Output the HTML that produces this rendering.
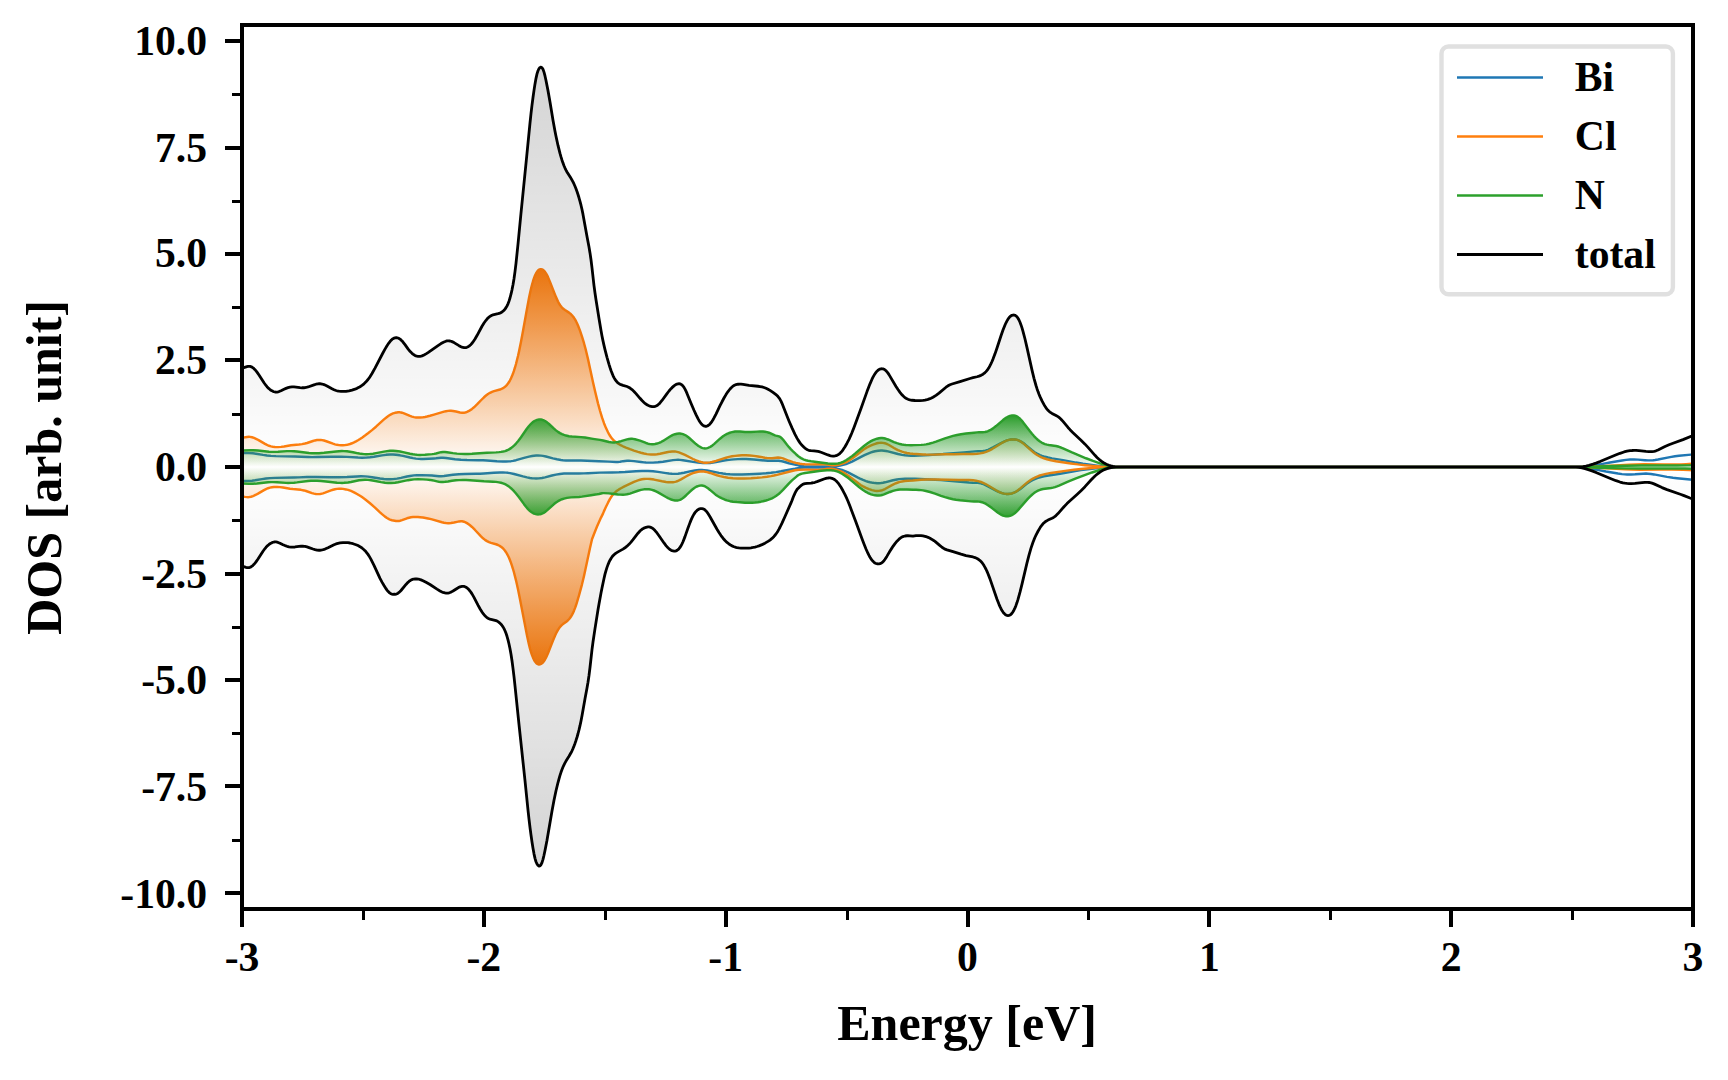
<!DOCTYPE html>
<html><head><meta charset="utf-8"><title>DOS</title>
<style>
html,body{margin:0;padding:0;background:#fff;}
svg{display:block;}
text{font-family:"Liberation Serif","Times New Roman",serif;font-weight:bold;fill:#000;}
</style></head><body>
<svg width="1728" height="1080" viewBox="0 0 1728 1080">
<defs>
<clipPath id="ax"><rect x="242.0" y="25.0" width="1451.00" height="884.0"/></clipPath>
<linearGradient id="g_cl" gradientUnits="userSpaceOnUse" x1="0" y1="269.16" x2="0" y2="664.84"><stop offset="0" stop-color="#ff7f0e" stop-opacity="1.0"/><stop offset="0.5" stop-color="#ff7f0e" stop-opacity="0"/><stop offset="1" stop-color="#ff7f0e" stop-opacity="1.0"/></linearGradient>
<linearGradient id="g_n" gradientUnits="userSpaceOnUse" x1="0" y1="415.41" x2="0" y2="518.59"><stop offset="0" stop-color="#2ca02c" stop-opacity="1.0"/><stop offset="0.5" stop-color="#2ca02c" stop-opacity="0"/><stop offset="1" stop-color="#2ca02c" stop-opacity="1.0"/></linearGradient>
<linearGradient id="g_total" gradientUnits="userSpaceOnUse" x1="0" y1="67.12" x2="0" y2="866.88"><stop offset="0" stop-color="#000000" stop-opacity="0.17"/><stop offset="0.5" stop-color="#000000" stop-opacity="0"/><stop offset="1" stop-color="#000000" stop-opacity="0.17"/></linearGradient>
</defs>
<rect width="1728" height="1080" fill="#fff"/>
<g clip-path="url(#ax)">
<path d="M238,452.95 241,453.04 249,453.1 253,453.31 256,453.68 263,454.88 267,455.45 271,455.85 276,456.13 295,456.46 308,457.01 312,457.11 317,457.07 332,456.67 341,456.69 347,456.9 358,457.59 362,457.73 366,457.63 370,457.26 374,456.69 382,455.36 386,454.84 390,454.57 393,454.57 396,454.78 400,455.33 403,455.92 410,457.52 413,458.13 416,458.6 419,458.89 421,458.97 423,458.95 434,458.46 436,458.34 441,457.79 443,457.77 446,458.02 455,459.26 461,459.8 467,460.05 478,460.18 483,460.32 487,460.55 497,461.27 503,461.49 506,461.49 509,461.36 511,461.16 513,460.85 516,460.18 525,457.61 529,456.62 532,456.05 534,455.76 536,455.57 538,455.49 541,455.62 543,455.89 546,456.54 553,458.36 557,459.28 561,459.95 563,460.19 566,460.44 571,460.59 581,460.57 587,460.67 599,461.26 609,461.63 616,462 618,461.96 619,461.87 620,461.74 623,461.16 625,460.91 627,460.79 629,460.79 631,460.88 634,461.15 641,462.03 644,462.35 646,462.5 649,462.63 653,462.6 658,462.28 663,461.67 673,460.13 676,459.85 678,459.78 680,459.85 683,460.17 693,461.91 698,462.58 703,463 706,463.08 708,463.04 710,462.92 713,462.57 716,462.07 724,460.57 727,460.12 731,459.63 734,459.36 738,459.13 742,459.03 746,459.06 750,459.21 754,459.46 765,460.49 768,460.71 772,460.84 777,460.74 779,460.82 780,460.93 781,461.09 783,461.54 789,463.22 796,464.87 800,465.66 804,466.17 808,466.42 812,466.51 827,466.4 833,466.21 836,465.99 838,465.77 840,465.48 842,465.1 844,464.62 846,464.04 849,462.96 852,461.62 862,456.31 865,454.86 868,453.53 871,452.4 873,451.78 875,451.3 878,450.79 881,450.52 882,450.51 884,450.67 886,450.99 888,451.42 898,454.03 902,454.86 905,455.27 908,455.54 911,455.7 914,455.76 919,455.61 929,454.92 943,454.08 964,452.35 975,451.36 978,451.17 983,450.97 985,450.68 986,450.44 988,449.79 990,448.95 993,447.44 1001,443.04 1003,442.05 1005,441.18 1007,440.44 1009,439.88 1011,439.51 1013,439.37 1015,439.49 1017,439.89 1019,440.57 1021,441.57 1023,442.84 1025,444.33 1032,450.23 1034,451.76 1035,452.44 1037,453.65 1040,455.1 1042,455.87 1045,456.81 1048,457.55 1052,458.34 1063,460.15 1076,462.58 1083,463.71 1097,465.59 1103,466.28 1108,466.66 1115,466.92 1122,467 1579,466.97 1582,466.86 1585,466.62 1589,466.16 1593,465.59 1599,464.6 1610,462.46 1622,460.45 1626,459.89 1630,459.55 1634,459.47 1638,459.61 1645,460.2 1648,460.39 1651,460.38 1653,460.24 1655,460.01 1658,459.54 1670,457.15 1675,456.32 1679,455.84 1691,454.65 1697,453.98 1697,480.02 1695,479.96 1690,479.42 1677,478.21 1673,477.77 1667,476.85 1654,474.42 1651,473.98 1648,473.67 1646,473.59 1643,473.66 1635,474.32 1631,474.52 1627,474.49 1625,474.38 1622,474.11 1618,473.55 1606,471.54 1595,469.4 1589,468.41 1585,467.84 1581,467.38 1578,467.14 1575,467.03 1120,467 1113,467.08 1106,467.33 1100,467.78 1094,468.46 1081,470.12 1074,471.17 1060,473.68 1047,475.72 1044,476.28 1041,476.96 1038,477.81 1036,478.51 1033,479.8 1031,480.88 1029,482.14 1027,483.61 1020,489.17 1018,490.57 1016,491.76 1014,492.7 1012,493.39 1010,493.83 1008,494 1006,493.91 1004,493.59 1002,493.08 1000,492.39 998,491.56 996,490.62 988,486.36 986,485.35 984,484.45 982,483.71 981,483.42 979,483.01 978,482.9 973,482.74 969,482.5 949,480.84 941,480.12 935,479.69 925,479.32 915,478.81 908,478.61 905,478.67 902,478.85 899,479.15 897,479.45 893,480.27 885,482.32 883,482.74 881,483.07 879,483.25 877,483.24 875,483.09 873,482.83 870,482.25 868,481.72 866,481.06 863,479.89 860,478.56 858,477.58 848,472.35 845,471.04 842,469.97 840,469.39 838,468.92 836,468.54 834,468.25 832,468.03 829,467.8 823,467.61 808,467.49 804,467.57 800,467.81 798,468.09 795,468.74 781,471.31 776,472.09 771,472.74 766,473.24 760,473.67 749,474.29 742,474.54 738,474.58 734,474.5 730,474.28 726,473.91 723,473.53 719,472.89 707,470.56 704,470.17 702,470.04 699,470.06 697,470.21 695,470.45 691,471.17 684,472.74 681,473.31 678,473.71 675,473.88 672,473.82 669,473.55 666,473.14 658,471.89 653,471.32 648,471.03 642,471.01 636,471.26 625,472.04 619,472.33 612,472.49 600,472.63 588,473.22 584,473.37 579,473.43 569,473.41 564,473.59 560,473.98 556,474.63 552,475.51 545,477.32 542,478 539,478.4 536,478.49 534,478.4 532,478.21 530,477.93 527,477.36 523,476.42 514,474 510,473.13 508,472.84 506,472.65 503,472.52 500,472.5 494,472.72 484,473.47 480,473.7 476,473.82 465,473.95 459,474.21 456,474.46 453,474.78 444,476.01 441,476.23 439,476.21 434,475.69 432,475.55 421,475.15 417,475.16 414,475.38 410,475.96 407,476.56 401,477.89 397,478.61 393,479.11 390,479.31 387,479.29 384,479.07 380,478.57 372,477.19 368,476.64 365,476.37 361,476.27 357,476.42 347,477.05 339,477.32 330,477.32 316,476.94 311,476.89 307,476.99 299,477.38 294,477.55 275,477.87 270,478.15 266,478.55 262,479.12 255,480.32 252,480.69 248,480.9 238,481.01Z" fill="none" stroke="#1f77b4" stroke-width="2.45" stroke-linejoin="round" paint-order="stroke"/>
<path d="M238,437.6 239,437.78 240,437.85 241,437.83 243,437.6 247,436.96 249,436.84 250,436.9 252,437.27 254,437.92 255,438.34 257,439.3 259,440.4 265,443.93 267,444.95 268,445.39 269,445.78 271,446.4 273,446.82 275,447.06 278,447.12 281,446.89 284,446.46 291,445.29 299,444.51 302,444.12 305,443.55 307,443.02 313,441 315,440.43 317,440.03 319,439.86 321,439.94 322,440.09 324,440.53 327,441.48 333,443.7 335,444.33 337,444.82 339,445.15 341,445.31 343,445.3 345,445.14 347,444.81 348,444.59 350,444 352,443.26 354,442.36 356,441.34 358,440.22 360,438.99 362,437.67 365,435.54 368,433.27 372,430.09 376,426.71 384,419.41 387,416.94 389,415.51 391,414.34 393,413.45 395,412.82 397,412.43 398,412.32 399,412.29 400,412.34 401,412.48 402,412.7 404,413.34 410,415.96 412,416.64 414,417.13 416,417.43 418,417.57 420,417.56 423,417.3 425,416.98 427,416.56 430,415.8 434,414.68 444,411.68 446,411.19 448,410.87 450,410.76 451,410.79 453,410.97 456,411.52 460,412.44 462,412.72 463,412.76 464,412.7 465,412.54 466,412.27 467,411.91 469,410.93 471,409.65 472,408.92 474,407.28 477,404.46 482,399.25 484,397.26 486,395.49 488,394.01 490,392.82 492,391.88 494,391.17 500,389.52 502,388.73 503,388.21 504,387.58 505,386.82 506,385.91 507,384.83 508,383.54 509,382.05 510,380.32 511,378.33 512,376.08 513,373.53 514,370.67 515,367.49 516,364 518,356.06 519,351.61 521,341.77 523,331.04 527,308.67 529,298.1 530,293.25 531,288.8 532,284.8 533,281.25 534,278.17 535,275.56 536,273.43 537,271.76 538,270.53 539,269.71 540,269.27 541,269.16 542,269.38 543,269.9 544,270.73 545,271.88 546,273.34 547,275.11 548,277.16 550,281.86 554,292.22 556,297.12 558,301.47 559,303.36 560,305 561,306.38 562,307.54 563,308.5 564,309.32 565,310.03 569,312.63 570,313.39 571,314.26 572,315.27 573,316.45 574,317.82 575,319.4 576,321.19 577,323.22 578,325.48 580,330.68 582,336.64 584,343.23 586,350.67 588,359.1 593,382.14 595,391.06 598,403.35 600,410.76 602,417.43 604,423.2 606,428.09 608,432.26 609,434.1 610,435.75 611,437.23 612,438.53 613,439.67 614,440.66 615,441.54 617,443.02 618,443.67 620,444.81 623,446.27 626,447.58 630,449.16 634,450.58 638,451.88 641,452.74 644,453.49 647,454.09 649,454.38 651,454.56 653,454.59 655,454.5 657,454.29 660,453.81 668,452.04 670,451.67 672,451.45 673,451.41 675,451.5 676,451.64 677,451.84 679,452.4 682,453.55 685,454.94 693,458.99 695,459.92 697,460.77 699,461.48 701,462.05 703,462.45 705,462.67 707,462.7 708,462.65 710,462.4 712,462.01 716,460.91 723,458.61 726,457.69 729,456.92 732,456.31 735,455.86 739,455.46 742,455.32 746,455.31 750,455.5 754,455.89 758,456.47 765,457.69 767,457.96 769,458.13 772,458.16 778,457.59 780,457.69 781,457.86 783,458.44 789,460.78 793,462.06 796,462.86 798,463.31 800,463.69 802,463.98 805,464.26 809,464.4 812,464.38 820,464.15 824,464.2 827,464.49 832,465.24 834,465.33 835,465.28 837,465.04 840,464.38 843,463.42 846,462.09 849,460.41 852,458.44 856,455.51 863,450.04 865,448.62 867,447.37 870,445.82 873,444.56 876,443.54 878,443.06 879,442.89 881,442.74 883,442.86 885,443.29 886,443.61 887,444.01 889,445 894,447.95 896,449.06 898,450.06 900,450.94 902,451.69 905,452.56 907,453 910,453.45 913,453.73 923,454.42 926,454.57 929,454.63 933,454.6 944,454.34 954,454.21 963,454 973,453.96 977,453.75 980,453.4 983,452.82 986,451.89 989,450.61 992,449.04 995,447.23 1001,443.44 1003,442.29 1005,441.27 1007,440.45 1009,439.86 1011,439.5 1013,439.38 1015,439.47 1017,439.83 1018,440.14 1019,440.55 1020,441.06 1021,441.68 1023,443.16 1025,444.87 1030,449.43 1032,451.17 1034,452.79 1036,454.23 1038,455.48 1041,457.05 1044,458.29 1047,459.26 1051,460.24 1056,461.18 1071,463.43 1078,464.39 1085,465.16 1093,465.87 1100,466.4 1106,466.71 1115,466.9 1129,467 1582,467 1590,466.72 1616,465.43 1629,464.72 1636,464.43 1644,464.31 1664,464.55 1675,464.5 1681,464.36 1686,464.17 1692,463.84 1697,463.46 1697,470.54 1695,470.5 1689,470.08 1683,469.79 1672,469.49 1660,469.45 1640,469.69 1632,469.57 1625,469.28 1612,468.57 1586,467.28 1578,467 1127,467 1113,467.1 1104,467.29 1097,467.63 1089,468.22 1081,468.92 1074,469.69 1067,470.61 1051,472.92 1046,473.85 1042,474.83 1039,475.79 1036,477.01 1033,478.54 1031,479.76 1029,481.14 1027,482.68 1020,488.64 1018,490.25 1016,491.65 1015,492.23 1014,492.72 1012,493.44 1010,493.86 1008,494 1006,493.91 1004,493.61 1002,493.08 1000,492.31 998,491.34 996,490.24 989,485.95 986,484.25 983,482.79 981,481.99 979,481.34 976,480.67 973,480.27 969,480.02 959,480.01 935,479.56 927,479.56 921,479.78 913,480.5 908,480.74 905,481.01 902,481.47 900,481.93 898,482.51 896,483.23 894,484.08 892,485.06 885,489.02 883,489.93 882,490.28 881,490.56 879,490.87 877,490.92 875,490.75 874,490.59 872,490.11 869,489.13 866,487.92 863,486.41 861,485.19 859,483.79 852,478.4 848,475.51 845,473.58 842,471.92 839,470.61 836,469.65 833,468.99 831,468.73 830,468.68 828,468.74 826,468.99 822,469.61 819,469.83 816,469.85 808,469.63 805,469.6 799,469.8 797,469.96 795,470.29 791,471.23 777,474.86 774,475.54 771,476.12 767,476.75 762,477.37 757,477.84 751,478.26 744,478.52 738,478.5 733,478.26 728,477.73 724,477.05 720,476.1 717,475.23 710,472.95 707,472.1 705,471.69 704,471.56 702,471.44 700,471.53 698,471.79 696,472.22 693,473.16 691,473.97 688,475.41 686,476.5 681,479.39 679,480.43 677,481.27 676,481.59 675,481.84 673,482.19 672,482.28 670,482.34 668,482.24 666,482.02 662,481.31 654,479.58 652,479.25 650,479.01 648,478.88 646,478.87 644,479.01 642,479.3 640,479.73 638,480.32 636,481.05 634,481.9 624,486.7 621,488.26 619,489.42 617,490.78 616,491.57 614,493.44 613,494.56 612,495.83 611,497.27 610,498.9 608,502.67 606,506.72 604,511.13 603,513.63 601,517.59 599,521.91 597,526.53 595,531.45 592,539.3 590,548.09 584,575.91 582,584.31 579,595.4 577,602.19 576,605.27 575,608.11 574,610.66 573,612.91 572,614.86 571,616.56 570,618.01 569,619.24 568,620.27 567,621.16 563,624.09 562,624.91 561,625.88 560,627.04 559,628.31 558,629.82 557,631.59 556,633.57 555,635.75 553,640.53 548,653.22 547,655.54 546,657.66 545,659.53 544,661.11 543,662.38 542,663.33 541,663.97 540,664.36 539,664.47 538,664.27 537,663.73 536,662.83 535,661.54 534,659.83 533,657.68 532,655.08 531,652.05 530,648.58 529,644.64 527,635.58 520,599.15 518,589.29 516,580.34 514,572.51 513,569.02 512,565.81 511,562.88 510,560.22 509,557.83 508,555.71 507,553.84 506,552.19 505,550.76 504,549.51 503,548.44 502,547.52 501,546.75 500,546.1 499,545.51 498,545.02 496,544.27 491,542.86 489,542.13 487,541.15 485,539.89 483,538.32 481,536.43 475,529.97 472,526.99 470,525.25 469,524.47 467,523.12 466,522.56 465,522.09 464,521.72 463,521.45 462,521.29 461,521.24 459,521.42 457,521.83 454,522.55 451,523.07 449,523.22 448,523.23 446,523.08 444,522.74 442,522.27 432,519.42 430,518.88 428,518.44 423,517.5 420,517.16 418,517.05 413,517.06 411,517.27 410,517.44 408,517.94 407,518.27 402,520.18 400,520.75 399,520.93 398,521.03 397,521.05 396,520.98 392,520.21 390,519.57 389,519.13 387,518.01 385,516.62 382,514.14 380,512.33 375,507.58 370,503.24 365,499.2 362,497.1 360,495.78 357,493.96 355,492.86 353,491.86 351,490.97 348,489.88 346,489.42 343,488.89 341,488.7 339,488.69 337,488.85 335,489.21 333,489.73 331,490.39 325,492.69 323,493.35 321,493.84 320,494.01 318,494.14 316,494.01 314,493.65 312,493.08 306,490.97 304,490.43 301,489.84 298,489.46 293,489.02 290,488.68 283,487.53 280,487.11 277,486.88 274,486.94 272,487.18 270,487.6 268,488.22 267,488.61 266,489.05 264,490.07 258,493.6 256,494.7 254,495.66 253,496.08 251,496.73 249,497.1 248,497.16 247,497.13 245,496.9 241,496.26 239,496.15 238,496.22Z" fill="url(#g_cl)" stroke="#ff7f0e" stroke-width="2.45" stroke-linejoin="round" paint-order="stroke"/>
<path d="M238,450.58 242,450.58 251,450.26 254,450.28 258,450.54 269,451.68 272,451.86 274,451.9 278,451.77 287,451.13 291,451.11 294,451.26 297,451.53 309,452.97 312,453.18 315,453.26 319,453.17 324,452.83 329,452.32 336,451.5 339,451.22 342,451.09 344,451.11 347,451.32 350,451.71 353,452.27 358,453.33 361,453.84 364,454.15 366,454.22 369,454.13 373,453.67 376,453.16 384,451.62 387,451.15 390,450.83 393,450.74 396,450.92 398,451.16 400,451.49 403,452.11 410,453.72 413,454.28 415,454.57 417,454.78 420,454.92 422,454.9 425,454.75 432,454.14 434,453.86 436,453.47 440,452.42 441,452.22 443,452.01 445,452.02 447,452.21 453,453.14 457,453.62 461,453.89 465,453.99 468,453.95 472,453.79 487,452.72 496,452.35 499,452.13 501,451.9 503,451.56 505,451.07 506,450.75 508,449.91 509,449.39 511,448.11 512,447.35 514,445.61 515,444.63 516,443.56 518,441.22 521,437.25 527,428.54 529,425.96 531,423.79 532,422.86 533,422.05 534,421.35 535,420.76 536,420.29 537,419.92 538,419.67 539,419.52 540,419.49 541,419.57 542,419.76 543,420.06 544,420.48 545,421 546,421.62 547,422.34 549,423.99 554,428.63 556,430.37 558,431.88 560,433.13 562,434.15 564,434.94 566,435.55 569,436.18 572,436.55 581,437.11 585,437.56 593,438.85 600,439.85 603,440.49 609,441.97 611,442.33 613,442.5 615,442.41 618,441.91 621,441.19 627,439.41 629,438.95 631,438.75 632,438.78 633,438.89 635,439.28 640,440.64 642,441.31 646,442.99 648,443.69 650,444.11 652,444.25 653,444.22 655,444 657,443.56 659,442.89 661,442.02 663,440.94 670,436.49 672,435.41 673,434.95 675,434.2 677,433.71 679,433.53 680,433.55 681,433.67 682,433.87 683,434.16 684,434.54 685,435 686,435.55 687,436.19 689,437.72 696,444.04 698,445.62 699,446.3 701,447.42 702,447.83 703,448.14 704,448.34 705,448.41 706,448.36 707,448.19 708,447.9 709,447.49 710,446.98 711,446.38 712,445.69 714,444.09 720,438.69 723,436.33 725,435.02 727,433.91 729,433.03 731,432.35 732,432.09 734,431.71 735,431.58 737,431.46 740,431.53 745,431.95 748,432.09 751,432.03 757,431.61 760,431.46 763,431.5 765,431.71 767,432.11 769,432.74 775,435.31 776,435.65 779,436.4 780,436.85 781,437.55 782,438.49 783,439.6 787,444.79 789,447.2 791,449.37 793,451.38 796,454.23 798,455.97 799,456.76 801,458.13 803,459.18 804,459.6 806,460.26 808,460.74 811,461.26 828,463.51 832,463.82 835,463.81 837,463.62 838,463.45 840,462.95 841,462.62 843,461.82 844,461.35 846,460.26 849,458.33 852,456.11 855,453.68 864,446.02 866,444.46 868,443.02 871,441.15 873,440.13 875,439.31 877,438.68 879,438.24 881,438.02 882,438.01 884,438.26 886,438.78 888,439.49 894,442.07 897,443.18 900,444.06 902,444.48 904,444.78 906,444.98 908,445.1 911,445.17 914,445.14 921,444.88 924,444.62 926,444.35 929,443.76 933,442.69 936,441.71 945,438.44 949,437.09 953,435.92 957,434.96 961,434.24 966,433.58 974,432.66 977,432.37 979,432.25 983,432.18 984,432.1 985,431.96 987,431.47 988,431.12 990,430.22 991,429.67 993,428.38 996,426.09 1003,420.08 1005,418.54 1006,417.86 1008,416.72 1009,416.26 1010,415.9 1011,415.63 1012,415.46 1013,415.41 1014,415.48 1015,415.68 1016,416.01 1017,416.48 1018,417.1 1019,417.87 1020,418.78 1021,419.81 1023,422.15 1030,431.28 1032,433.76 1034,436.07 1036,438.16 1038,440 1040,441.56 1042,442.8 1044,443.73 1045,444.1 1047,444.65 1049,445.04 1054,445.69 1056,446.01 1057,446.23 1059,446.8 1061,447.52 1063,448.35 1072,452.46 1079,455.45 1086,458.27 1093,460.91 1100,463.33 1106,465.13 1110,466.12 1112,466.49 1114,466.73 1117,466.87 1129,467 1582,467 1590,466.82 1612,465.99 1626,465.67 1641,465.54 1677,465.53 1688,465.4 1697,465.21 1697,468.79 1685,468.58 1675,468.48 1638,468.46 1623,468.34 1608,468.01 1586,467.18 1578,467 1127,467 1113,467.2 1111,467.37 1109,467.68 1105,468.55 1099,470.22 1092,472.47 1084,475.33 1076,478.4 1068,481.69 1059,485.63 1057,486.42 1055,487.11 1053,487.65 1051,488.02 1045,488.73 1043,489.05 1041,489.53 1040,489.84 1038,490.63 1036,491.71 1034,493.09 1032,494.74 1030,496.63 1028,498.65 1026,500.83 1018,510.1 1016,512.15 1015,513.04 1014,513.82 1013,514.47 1012,515.05 1011,515.49 1009,516.1 1008,516.28 1007,516.33 1006,516.28 1005,516.12 1004,515.87 1003,515.53 1001,514.62 1000,514.05 998,512.73 992,508.11 988,505.18 986,503.93 985,503.4 983,502.52 982,502.19 980,501.72 979,501.6 977,501.52 974,501.52 971,501.37 960,500.3 956,499.75 953,499.21 949,498.29 945,497.14 941,495.79 935,493.57 930,492 926,490.96 923,490.39 921,490.12 919,489.95 916,489.84 913,489.83 907,489.44 903,489.39 900,489.55 898,489.77 896,490.13 893,490.89 890,491.98 884,494.42 882,495.05 881,495.29 879,495.56 877,495.56 875,495.34 873,494.91 871,494.3 870,493.93 868,493.03 866,491.95 863,490.02 861,488.56 859,486.98 852,481.07 848,477.84 845,475.66 842,473.75 839,472.21 837,471.41 836,471.09 834,470.58 833,470.41 831,470.21 829,470.16 827,470.22 824,470.46 821,470.82 805,473.02 802,473.66 800,474.29 799,474.76 798,475.36 797,476.08 792,480.41 789,483.37 783,489.93 781,491.95 779,493.74 778,494.56 776,496.02 774,497.26 772,498.29 770,499.15 768,499.87 766,500.49 763,501.25 761,501.67 758,502.17 755,502.55 752,502.77 749,502.83 745,502.7 737,502.09 733,501.68 730,501.17 727,500.39 725,499.72 722,498.46 720,497.46 718,496.28 716,494.92 715,494.15 710,489.92 708,488.32 706,486.96 705,486.42 704,485.99 703,485.69 702,485.54 701,485.52 700,485.62 699,485.81 698,486.1 697,486.48 696,486.95 695,487.52 694,488.18 692,489.76 690,491.6 686,495.49 684,497.28 683,498.07 682,498.77 681,499.36 680,499.83 679,500.17 678,500.41 677,500.53 676,500.55 675,500.49 674,500.33 672,499.79 670,499.01 668,498.05 666,496.97 658,492.35 656,491.35 654,490.5 652,489.84 651,489.59 649,489.27 647,489.16 646,489.18 644,489.34 641,489.88 638,490.74 632,492.94 630,493.59 627,494.31 625,494.6 623,494.73 620,494.64 618,494.45 612,493.67 609,493.35 604,493.1 603,493.15 602,493.29 599,493.97 597,494.33 591,495.18 582,496.61 579,496.91 571,497.4 569,497.6 567,497.89 564,498.57 562,499.23 560,500.09 558,501.16 556,502.48 554,504.05 547,510.4 545,511.96 544,512.62 543,513.19 542,513.64 541,513.99 540,514.24 539,514.38 538,514.42 537,514.36 536,514.19 535,513.92 534,513.55 533,513.06 532,512.48 531,511.79 530,510.99 529,510.08 528,509.08 526,506.75 524,504.14 519,497.26 516,493.46 514,491.19 512,489.16 511,488.24 509,486.62 508,485.91 506,484.7 505,484.19 503,483.37 501,482.78 499,482.34 496,481.9 493,481.66 484,481.27 470,480.22 466,480.05 463,480.01 459,480.12 456,480.32 452,480.77 448,481.42 445,481.83 443,481.98 441,481.98 439,481.78 438,481.58 434,480.59 432,480.2 430,479.91 427,479.65 423,479.39 418,479.22 414,479.36 411,479.68 408,480.17 401,481.67 398,482.25 395,482.69 391,483.05 388,483.01 385,482.73 381,482.1 374,480.71 371,480.21 368,479.88 365,479.78 362,479.93 359,480.32 351,481.97 348,482.47 344,482.83 342,482.91 340,482.9 337,482.72 326,481.5 321,481.04 317,480.81 314,480.74 311,480.81 308,481.03 297,482.39 294,482.68 291,482.86 288,482.91 286,482.86 277,482.23 273,482.1 271,482.14 268,482.32 257,483.46 253,483.72 249,483.72 241,483.42 238,483.4Z" fill="url(#g_n)" stroke="#2ca02c" stroke-width="2.45" stroke-linejoin="round" paint-order="stroke"/>
<path d="M238,367.81 239,368.18 240,368.33 241,368.31 242,368.15 243,367.88 247,366.58 248,366.37 249,366.29 250,366.37 251,366.65 252,367.13 253,367.8 254,368.65 255,369.66 256,370.82 257,372.11 259,375.01 264,382.76 266,385.46 267,386.65 269,388.68 270,389.52 271,390.25 272,390.87 273,391.37 274,391.74 275,391.99 276,392.09 277,392.04 278,391.86 279,391.56 281,390.73 284,389.26 286,388.38 288,387.66 290,387.15 292,386.88 294,386.87 296,387.04 300,387.59 302,387.77 304,387.76 305,387.66 306,387.48 308,386.96 314,384.83 316,384.22 318,383.83 319,383.74 320,383.74 321,383.83 322,384.02 324,384.63 325,385.04 327,385.99 332,388.7 334,389.68 336,390.47 337,390.77 339,391.19 341,391.41 343,391.47 346,391.3 349,390.85 352,390.14 355,389.18 357,388.36 359,387.36 360,386.78 362,385.43 364,383.8 366,381.84 368,379.49 369,378.15 370,376.7 372,373.5 375,368.12 383,352.75 385,349.14 387,345.79 389,342.81 390,341.52 391,340.39 392,339.45 393,338.7 394,338.16 395,337.82 396,337.69 397,337.75 398,338.02 399,338.48 400,339.12 401,339.93 402,340.91 403,342.04 405,344.65 408,348.82 410,351.28 411,352.35 412,353.3 413,354.12 414,354.83 415,355.42 416,355.87 417,356.2 418,356.4 419,356.46 420,356.39 421,356.2 422,355.9 424,355.02 426,353.88 428,352.59 438,345.57 441,343.58 443,342.43 444,341.95 446,341.2 447,340.97 448,340.84 449,340.86 450,341 451,341.26 452,341.62 454,342.59 459,345.67 461,346.75 462,347.17 463,347.48 464,347.67 465,347.71 466,347.58 467,347.28 468,346.8 469,346.16 470,345.36 471,344.39 472,343.26 473,341.99 475,339.02 477,335.55 482,326.29 484,323.05 486,320.28 487,319.09 488,318.04 489,317.14 490,316.38 491,315.75 492,315.24 493,314.83 494,314.53 498,313.72 499,313.46 500,313.1 501,312.62 502,312 503,311.21 504,310.24 505,309.07 506,307.66 507,305.93 508,303.79 509,301.17 510,298 511,294.23 512,289.83 513,284.73 514,278.74 515,271.67 516,263.39 518,244.19 521,213.14 526,163.48 530,122.99 531,113.69 532,105.21 533,97.47 534,90.36 535,83.9 536,78.32 537,73.89 538,70.75 539,68.7 540,67.51 541,67.12 542,67.66 543,69.29 544,72.12 545,75.95 546,80.47 548,90.63 550,102.03 553,120.19 555,131.27 556,136.3 558,145.43 560,153.4 561,156.95 562,160.18 563,163.1 564,165.71 565,168.05 566,170.13 567,171.97 571,178.36 572,180.07 573,181.93 574,183.97 575,186.24 576,188.75 577,191.51 578,194.52 579,197.77 580,201.31 581,205.2 582,209.54 583,214.39 587,236.5 589,247.06 590,252.92 591,259.72 592,267.89 594,285.55 595,293.02 596,299.74 599,318.53 601,330.5 602,335.92 603,340.86 604,345.39 605,349.6 607,357.34 609,364.33 610,367.5 611,370.44 612,373.13 613,375.52 614,377.6 615,379.34 616,380.77 617,381.93 618,382.86 619,383.6 620,384.2 621,384.67 623,385.36 627,386.53 628,386.93 629,387.43 630,388.04 632,389.57 634,391.45 636,393.61 640,398.3 642,400.53 644,402.49 645,403.34 647,404.75 648,405.33 649,405.8 650,406.19 651,406.48 652,406.66 653,406.72 654,406.63 655,406.4 656,406.02 657,405.48 658,404.78 659,403.92 660,402.9 662,400.48 667,393.56 669,391 671,388.7 672,387.66 674,385.87 675,385.14 676,384.54 677,384.09 678,383.82 679,383.74 680,383.89 681,384.29 682,384.97 683,385.98 684,387.36 685,389.1 686,391.16 687,393.43 691,403.23 694,410.21 696,414.58 698,418.6 699,420.4 700,422 701,423.39 702,424.51 703,425.36 704,425.93 705,426.23 706,426.28 707,426.07 708,425.61 709,424.9 710,423.95 711,422.76 712,421.35 713,419.73 714,417.94 716,414.02 720,405.73 722,401.76 724,398.02 726,394.6 728,391.57 730,389.01 731,387.93 732,386.98 733,386.19 734,385.55 735,385.05 736,384.67 737,384.41 738,384.25 740,384.16 741,384.21 743,384.45 749,385.41 758,386.26 760,386.54 762,386.94 764,387.48 766,388.23 768,389.19 770,390.35 773,392.38 776,394.64 777,395.52 778,396.56 779,397.8 780,399.32 781,401.17 782,403.35 787,416.05 789,420.95 792,427.9 795,434.28 797,438.11 798,439.84 799,441.41 800,442.82 801,444.1 802,445.25 804,447.28 805,448.16 806,448.92 807,449.55 808,450.02 809,450.34 810,450.54 811,450.65 814,450.84 816,451.04 818,451.39 819,451.64 821,452.27 828,454.94 830,455.55 831,455.79 833,456.06 834,456.06 835,455.95 836,455.72 837,455.35 838,454.83 839,454.15 840,453.31 841,452.31 842,451.15 843,449.83 845,446.77 847,443.23 849,439.31 851,434.95 852,432.56 854,427.4 861,408.45 867,391.6 870,383.82 872,379.23 873,377.2 874,375.37 875,373.75 876,372.35 877,371.19 878,370.25 879,369.55 880,369.07 881,368.81 882,368.76 883,368.91 884,369.28 885,369.89 886,370.75 887,371.84 888,373.14 889,374.61 896,386.44 898,389.53 900,392.34 902,394.77 903,395.83 904,396.76 905,397.57 906,398.25 907,398.81 908,399.26 909,399.62 910,399.9 912,400.27 915,400.51 920,400.58 923,400.43 925,400.16 927,399.71 928,399.41 930,398.68 931,398.24 933,397.22 936,395.32 939,393.06 946,387.22 948,385.81 949,385.22 950,384.72 952,384.01 960,381.67 970,378.52 973,377.69 977,376.74 979,376.16 981,375.36 982,374.84 983,374.22 984,373.49 985,372.63 986,371.61 987,370.42 988,369.05 989,367.46 990,365.67 991,363.68 992,361.5 993,359.12 995,353.84 997,347.98 1001,335.75 1003,330.05 1005,325 1006,322.79 1007,320.85 1008,319.17 1009,317.77 1010,316.65 1011,315.83 1012,315.3 1013,315.03 1014,315.02 1015,315.3 1016,315.9 1017,316.86 1018,318.24 1019,320.05 1020,322.28 1021,324.9 1022,327.92 1023,331.31 1025,339 1027,347.61 1032,370.12 1034,378.32 1036,385.5 1037,388.68 1038,391.59 1039,394.23 1040,396.64 1042,400.9 1044,404.64 1045,406.32 1046,407.84 1047,409.17 1048,410.31 1049,411.27 1050,412.1 1052,413.41 1056,415.45 1058,416.63 1059,417.37 1060,418.23 1061,419.2 1063,421.42 1068,427.45 1070,429.65 1073,432.68 1081,440.19 1085,444.14 1088,447.34 1095,455.33 1097,457.42 1099,459.28 1100,460.13 1102,461.66 1104,462.98 1106,464.09 1107,464.56 1109,465.36 1111,465.95 1113,466.36 1115,466.63 1118,466.82 1129,467 1575,467 1580,466.88 1583,466.59 1586,466.07 1589,465.36 1593,464.15 1596,463.11 1600,461.57 1615,455.32 1620,453.32 1624,451.97 1627,451.21 1630,450.71 1632,450.52 1634,450.44 1636,450.45 1639,450.63 1646,451.43 1649,451.67 1651,451.68 1652,451.62 1654,451.34 1655,451.1 1656,450.8 1658,450.01 1665,446.55 1669,444.79 1673,443.24 1683,439.59 1693,435.43 1695,434.7 1697,434.08 1697,499.92 1696,499.92 1695,499.77 1693,499.12 1690,498.03 1684,495.62 1681,494.49 1667,489.62 1662,487.59 1654,483.89 1652,483.16 1651,482.88 1649,482.49 1648,482.38 1647,482.32 1645,482.33 1642,482.57 1635,483.37 1631,483.57 1629,483.53 1627,483.4 1625,483.15 1623,482.79 1620,482.03 1616,480.68 1611,478.68 1596,472.43 1592,470.89 1589,469.85 1585,468.64 1582,467.93 1579,467.41 1576,467.11 1571,467 1127,467 1116,467.18 1113,467.37 1111,467.64 1109,468.04 1107,468.6 1105,469.35 1104,469.8 1102,470.83 1100,472.06 1098,473.49 1097,474.28 1095,476.01 1093,477.94 1091,480.05 1085,486.66 1081,490.71 1077,494.46 1070,500.74 1067,503.6 1064,506.73 1058,513.61 1056,515.57 1055,516.39 1054,517.1 1053,517.7 1052,518.22 1048,520.09 1046,521.25 1045,521.97 1044,522.82 1043,523.82 1042,524.99 1041,526.33 1040,527.84 1038,531.26 1036,535.12 1035,537.28 1034,539.64 1033,542.22 1031,548.13 1029,555.04 1027,562.86 1022,584.11 1020,592.19 1018,599.4 1017,602.57 1016,605.41 1015,607.88 1014,609.97 1013,611.68 1012,613.19 1011,614.29 1010,615.01 1009,615.41 1008,615.53 1007,615.39 1006,614.98 1005,614.29 1004,613.32 1003,612.06 1002,610.52 1001,608.71 1000,606.65 999,604.36 997,599.2 990,578.88 988,573.72 987,571.4 986,569.26 985,567.32 984,565.57 983,564.03 982,562.69 981,561.54 980,560.56 979,559.73 978,559.04 977,558.46 975,557.59 973,556.99 966,555.53 961,554.19 953,551.69 947,549.91 945,549.14 944,548.61 942,547.28 940,545.68 935,541.38 934,540.7 932,539.42 930,538.3 928,537.35 927,536.95 925,536.31 923,535.86 921,535.61 919,535.54 916,535.72 913,536.1 910,535.8 908,535.73 907,535.76 905,536 904,536.25 903,536.58 902,537.03 901,537.61 900,538.31 899,539.15 897,541.17 895,543.6 893,546.34 892,547.88 890,551.11 887,556.14 885,559.24 884,560.57 883,561.71 882,562.62 881,563.29 880,563.71 879,563.88 878,563.84 877,563.77 876,563.49 875,563 874,562.29 873,561.35 872,560.19 871,558.82 870,557.22 869,555.43 868,553.45 866,548.98 864,544.05 862,538.8 856,522.32 850,506.36 848,501.29 847,498.94 845,494.65 843,490.79 841,487.3 839,484.27 838,482.96 837,481.8 836,480.8 835,479.96 834,479.27 833,478.73 832,478.34 831,478.09 830,477.96 829,477.94 828,478.02 827,478.18 826,478.4 824,478.99 817,481.64 815,482.29 814,482.55 813,482.75 811,483.04 807,483.33 805,483.6 804,483.89 803,484.32 802,484.9 801,485.62 800,486.46 798,488.42 797,489.55 796,491.17 795,493.13 794,495.34 793,497.81 792,500.52 791,502.85 785,516.53 782,523.13 780,527.25 779,529.16 778,530.92 777,532.52 776,533.97 775,535.28 774,536.45 772,538.44 770,540.04 768,541.39 765,543.16 762,544.65 759,545.85 757,546.5 755,547.04 753,547.47 751,547.8 749,548.03 747,548.16 743,548.19 741,548.09 739,547.89 737,547.56 736,547.33 734,546.72 732,545.85 731,545.31 729,544 727,542.39 725,540.47 723,538.2 721,535.56 719,532.56 717,529.25 710,516.7 708,513.51 707,512.12 706,510.93 705,509.97 704,509.26 703,508.8 702,508.56 701,508.53 700,508.71 699,509.09 698,509.66 697,510.45 696,511.43 695,512.65 694,514.11 693,515.84 692,517.85 691,520.13 690,522.63 688,528.09 685,536.62 683,541.71 682,543.89 681,545.78 680,547.39 679,548.7 678,549.7 677,550.4 676,550.85 675,551.08 674,551.11 673,550.98 672,550.67 671,550.19 670,549.55 669,548.75 668,547.82 666,545.59 664,542.97 659,535.73 657,532.97 655,530.56 654,529.54 653,528.68 652,527.97 651,527.44 650,527.09 649,526.93 648,526.95 647,527.1 645,527.68 644,528.11 643,528.64 642,529.29 641,530.07 640,531 638,533.23 633,539.68 631,542.13 629,544.33 627,546.21 625,547.79 623,549.12 618,551.86 616,553.08 615,553.83 614,554.71 613,555.75 612,556.99 611,558.47 610,560.2 609,562.24 608,564.61 607,567.38 606,570.57 605,574.14 604,578.56 602,587.99 601,593 599,603.89 598,609.82 595,628.64 593,641.98 592,649.68 590,667.47 589,675.49 588,682.19 587,688 585,698.72 582,715.64 581,720.9 580,725.67 579,729.92 578,733.75 577,737.24 576,740.45 575,743.41 574,746.11 573,748.57 572,750.78 571,752.78 569,756.28 566,761.09 565,762.85 564,764.82 563,767.04 562,769.54 561,772.33 560,775.44 559,778.82 558,782.52 556,790.78 554,800.21 552,810.95 547,840.26 545,850.58 544,855.23 543,859.32 542,862.57 541,864.72 540,865.87 539,866.05 538,865.42 537,864.03 536,861.74 535,858.37 534,853.83 533,848.28 532,841.95 531,835.01 530,827.46 529,819.14 528,810.08 525,780.57 519,724.48 515,685.83 514,676.72 513,668.29 512,660.78 511,654.3 510,648.76 509,643.99 508,639.86 507,636.31 506,633.27 505,630.73 504,628.63 503,626.89 502,625.46 501,624.27 500,623.28 499,622.36 498,621.64 497,621.08 496,620.66 494,620.12 491,619.49 490,619.19 489,618.78 488,618.24 487,617.58 486,616.77 485,615.81 484,614.69 483,613.42 482,612 480,608.78 478,605.11 474,597.35 472,593.89 471,592.38 470,591.01 469,589.81 468,588.77 467,587.9 466,587.22 465,586.72 464,586.42 463,586.29 462,586.35 461,586.55 460,586.89 459,587.34 457,588.48 453,591.04 451,592.12 450,592.54 449,592.86 448,593.07 447,593.15 446,593.11 445,592.95 443,592.36 442,591.96 440,590.97 437,589.17 430,584.49 426,582.27 423,580.73 421,579.87 419,579.24 418,579.03 417,578.94 416,578.98 415,578.93 414,579.02 413,579.24 412,579.6 411,580.09 410,580.71 409,581.46 408,582.33 406,584.41 401,590.49 400,591.53 399,592.43 398,593.16 397,593.71 396,594.09 395,594.27 394,594.22 393,594.3 392,594.14 391,593.77 390,593.16 389,592.33 388,591.29 387,590.07 386,588.69 384,585.57 382,582.11 380,578.42 374,565.32 371,559.35 369,555.9 368,554.39 366,551.79 365,550.67 364,549.7 362,548.03 360,546.67 358,545.58 356,544.71 353,543.71 350,543 348,542.7 345,542.54 343,542.57 340,542.88 338,543.3 336,543.93 334,544.76 328,547.73 325,549.06 323,549.74 322,549.98 321,550.16 320,550.25 319,550.26 317,550.06 315,549.63 313,549.01 309,547.56 307,546.92 305,546.45 304,546.31 303,546.23 301,546.26 299,546.45 295,546.98 293,547.14 291,547.1 289,546.81 287,546.29 285,545.57 283,544.7 280,543.25 278,542.43 277,542.14 276,541.96 275,541.91 274,542.01 273,542.26 272,542.63 271,543.13 270,543.75 269,544.48 268,545.32 266,547.35 265,548.54 263,551.24 258,558.99 256,561.89 255,563.18 254,564.34 253,565.35 252,566.2 251,566.87 250,567.35 249,567.63 248,567.71 247,567.63 246,567.42 242,566.12 241,565.85 240,565.69 239,565.67 238,565.82Z" fill="url(#g_total)" stroke="#000000" stroke-width="2.8" stroke-linejoin="round" paint-order="stroke"/>
</g>
<g fill="#000" shape-rendering="crispEdges">
<rect x="240" y="909" width="4" height="18"/>
<rect x="482" y="909" width="4" height="18"/>
<rect x="724" y="909" width="4" height="18"/>
<rect x="966" y="909" width="4" height="18"/>
<rect x="1207" y="909" width="4" height="18"/>
<rect x="1449" y="909" width="4" height="18"/>
<rect x="1691" y="909" width="4" height="18"/>
<rect x="362" y="909" width="3" height="10.6"/>
<rect x="604" y="909" width="3" height="10.6"/>
<rect x="846" y="909" width="3" height="10.6"/>
<rect x="1087" y="909" width="3" height="10.6"/>
<rect x="1329" y="909" width="3" height="10.6"/>
<rect x="1571" y="909" width="3" height="10.6"/>
<rect x="225" y="39" width="17" height="4"/>
<rect x="225" y="146" width="17" height="4"/>
<rect x="225" y="252" width="17" height="4"/>
<rect x="225" y="358" width="17" height="4"/>
<rect x="225" y="465" width="17" height="4"/>
<rect x="225" y="572" width="17" height="4"/>
<rect x="225" y="678" width="17" height="4"/>
<rect x="225" y="784" width="17" height="4"/>
<rect x="225" y="891" width="17" height="4"/>
<rect x="232.1" y="93" width="9.9" height="3"/>
<rect x="232.1" y="200" width="9.9" height="3"/>
<rect x="232.1" y="306" width="9.9" height="3"/>
<rect x="232.1" y="413" width="9.9" height="3"/>
<rect x="232.1" y="519" width="9.9" height="3"/>
<rect x="232.1" y="626" width="9.9" height="3"/>
<rect x="232.1" y="732" width="9.9" height="3"/>
<rect x="232.1" y="839" width="9.9" height="3"/>
<rect x="240" y="23" width="4" height="888"/>
<rect x="1691" y="23" width="4" height="888"/>
<rect x="240" y="23" width="1455" height="4"/>
<rect x="240" y="907" width="1455" height="4"/>
</g>
<g>
<text transform="translate(242.00,971.3) scale(1,1.032)" text-anchor="middle" font-size="41.67">-3</text>
<text transform="translate(483.83,971.3) scale(1,1.032)" text-anchor="middle" font-size="41.67">-2</text>
<text transform="translate(725.67,971.3) scale(1,1.032)" text-anchor="middle" font-size="41.67">-1</text>
<text transform="translate(967.50,971.3) scale(1,1.032)" text-anchor="middle" font-size="41.67">0</text>
<text transform="translate(1209.33,971.3) scale(1,1.032)" text-anchor="middle" font-size="41.67">1</text>
<text transform="translate(1451.17,971.3) scale(1,1.032)" text-anchor="middle" font-size="41.67">2</text>
<text transform="translate(1693.00,971.3) scale(1,1.032)" text-anchor="middle" font-size="41.67">3</text>
<text transform="translate(207.1,55.05) scale(1,1.032)" text-anchor="end" font-size="41.67">10.0</text>
<text transform="translate(207.1,161.60) scale(1,1.032)" text-anchor="end" font-size="41.67">7.5</text>
<text transform="translate(207.1,267.40) scale(1,1.032)" text-anchor="end" font-size="41.67">5.0</text>
<text transform="translate(207.1,373.90) scale(1,1.032)" text-anchor="end" font-size="41.67">2.5</text>
<text transform="translate(207.1,481.20) scale(1,1.032)" text-anchor="end" font-size="41.67">0.0</text>
<text transform="translate(207.1,587.50) scale(1,1.032)" text-anchor="end" font-size="41.67">-2.5</text>
<text transform="translate(207.1,694.40) scale(1,1.032)" text-anchor="end" font-size="41.67">-5.0</text>
<text transform="translate(207.1,801.20) scale(1,1.032)" text-anchor="end" font-size="41.67">-7.5</text>
<text transform="translate(207.1,907.90) scale(1,1.032)" text-anchor="end" font-size="41.67">-10.0</text>
<text x="967.1" y="1040" text-anchor="middle" font-size="50">Energy [eV]</text>
<text transform="translate(60.5,467.4) rotate(-90)" text-anchor="middle" font-size="50">DOS [arb. unit]</text>
</g>
<g>
<rect x="1441.5" y="46.5" width="231.4" height="247.8" rx="7" ry="7" fill="#fff" fill-opacity="0.8" stroke="#e0e0e0" stroke-width="4.4"/>
<line x1="1457" y1="77.5" x2="1543" y2="77.5" stroke="#1f77b4" stroke-width="2.45"/>
<text x="1574.8" y="91.2" font-size="41.67">Bi</text>
<line x1="1457" y1="136.5" x2="1543" y2="136.5" stroke="#ff7f0e" stroke-width="2.45"/>
<text x="1574.8" y="150.2" font-size="41.67">Cl</text>
<line x1="1457" y1="195.5" x2="1543" y2="195.5" stroke="#2ca02c" stroke-width="2.45"/>
<text x="1574.8" y="209.2" font-size="41.67">N</text>
<line x1="1457" y1="254.5" x2="1543" y2="254.5" stroke="#000" stroke-width="2.8"/>
<text x="1574.8" y="268.2" font-size="41.67">total</text>
</g>
</svg>
</body></html>
